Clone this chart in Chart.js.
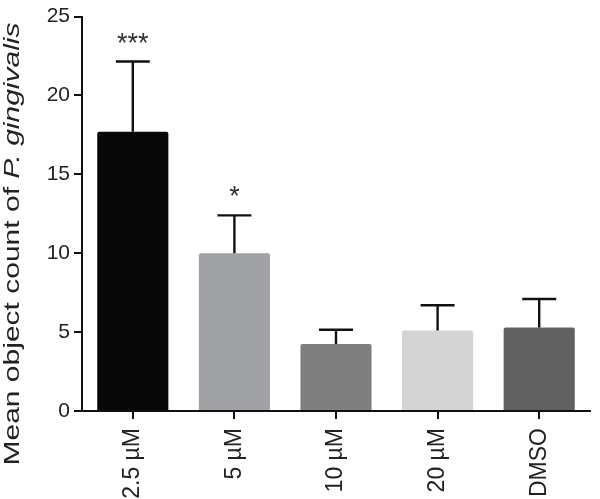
<!DOCTYPE html>
<html>
<head>
<meta charset="utf-8">
<script src="https://cdn.jsdelivr.net/npm/chart.js@4.4.1/dist/chart.umd.min.js"></script>
<style>
  html, body { margin: 0; padding: 0; background: #fff; }
  #wrap { width: 600px; height: 499px; }
</style>
</head>
<body>
<div id="wrap"><canvas id="myChart" width="600" height="499"></canvas></div>
<script>
// data
const categories = ['2.5 µM', '5 µM', '10 µM', '20 µM', 'DMSO'];
const meanCount = [17.7, 10.0, 4.25, 5.1, 5.3];
const errUp = [4.45, 2.4, 0.9, 1.6, 1.8];
const stars = ['***', '*', '', '', ''];
const barColors = ['#070707', '#a1a2a6', '#7e7f7e', '#d4d4d4', '#616161'];
const yTicks = [0, 5, 10, 15, 20, 25];

const textColor = '#222';

// error bars + significance stars
const errorBars = {
  id: 'errorBars',
  afterDatasetsDraw(chart) {
    const ctx = chart.ctx;
    const x = chart.scales.x, y = chart.scales.y;
    ctx.save();
    ctx.strokeStyle = '#111';
    ctx.lineWidth = 2.4;
    meanCount.forEach((v, i) => {
      const px = x.getPixelForValue(i);
      const top = y.getPixelForValue(v + errUp[i]);
      const base = y.getPixelForValue(v);
      ctx.beginPath();
      ctx.moveTo(px, base);
      ctx.lineTo(px, top);
      ctx.moveTo(px - 17, top);
      ctx.lineTo(px + 17, top);
      ctx.stroke();
      if (stars[i]) {
        ctx.fillStyle = '#333';
        ctx.font = '27px "Liberation Sans", Arial, sans-serif';
        ctx.textAlign = 'center';
        ctx.textBaseline = 'alphabetic';
        ctx.fillText(stars[i], px, top - 10);
      }
    });
    ctx.restore();
  }
};

// y axis title with italic species name
const yTitle = {
  id: 'yTitle',
  afterDraw(chart) {
    const ctx = chart.ctx;
    const parts = [
      ['Mean object count of ', 'normal'],
      ['P. gingivalis', 'italic']
    ];
    ctx.save();
    ctx.translate(12.5, 244);
    ctx.rotate(-Math.PI / 2);
    ctx.scale(1, 0.74);
    ctx.fillStyle = textColor;
    ctx.textBaseline = 'middle';
    ctx.textAlign = 'left';
    let total = 0;
    parts.forEach(p => {
      ctx.font = p[1] + ' 30px "Liberation Sans", Arial, sans-serif';
      total += ctx.measureText(p[0]).width;
    });
    let cx = -total / 2;
    parts.forEach(p => {
      ctx.font = p[1] + ' 30px "Liberation Sans", Arial, sans-serif';
      ctx.fillText(p[0], cx, 0);
      cx += ctx.measureText(p[0]).width;
    });
    ctx.restore();
  }
};

const ctx = document.getElementById('myChart');
new Chart(ctx, {
  type: 'bar',
  data: {
    labels: categories,
    datasets: [{
      data: meanCount,
      backgroundColor: barColors,
      borderWidth: 0,
      borderRadius: 2,
      borderSkipped: 'bottom',
      barPercentage: 0.7,
      categoryPercentage: 1
    }]
  },
  options: {
    responsive: false,
    devicePixelRatio: 1,
    animation: false,
    layout: { padding: { top: 14, right: 10, left: 0, bottom: 0 } },
    plugins: { legend: { display: false }, tooltip: { enabled: false } },
    scales: {
      x: {
        offset: true,
        grid: { display: true, offset: false, drawOnChartArea: false, drawTicks: true, tickLength: 8, color: '#111', lineWidth: 2 },
        border: { display: true, color: '#111', width: 2 },
        ticks: {
          minRotation: 90, maxRotation: 90, padding: 9,
          color: textColor,
          font: { family: '"Liberation Sans", Arial, sans-serif', size: 23 }
        },
        afterFit(s) { s.height = 88; }
      },
      y: {
        min: 0, max: 25,
        afterBuildTicks(s) { s.ticks = yTicks.map(v => ({ value: v })); },
        grid: { display: true, drawOnChartArea: false, drawTicks: true, tickLength: 8, color: '#111', lineWidth: 2 },
        border: { display: true, color: '#111', width: 2 },
        ticks: {
          padding: 4,
          color: textColor,
          font: { family: '"Liberation Sans", Arial, sans-serif', size: 21 }
        },
        afterFit(s) { s.width = 82; }
      }
    }
  },
  plugins: [errorBars, yTitle]
});
</script>
</body>
</html>
